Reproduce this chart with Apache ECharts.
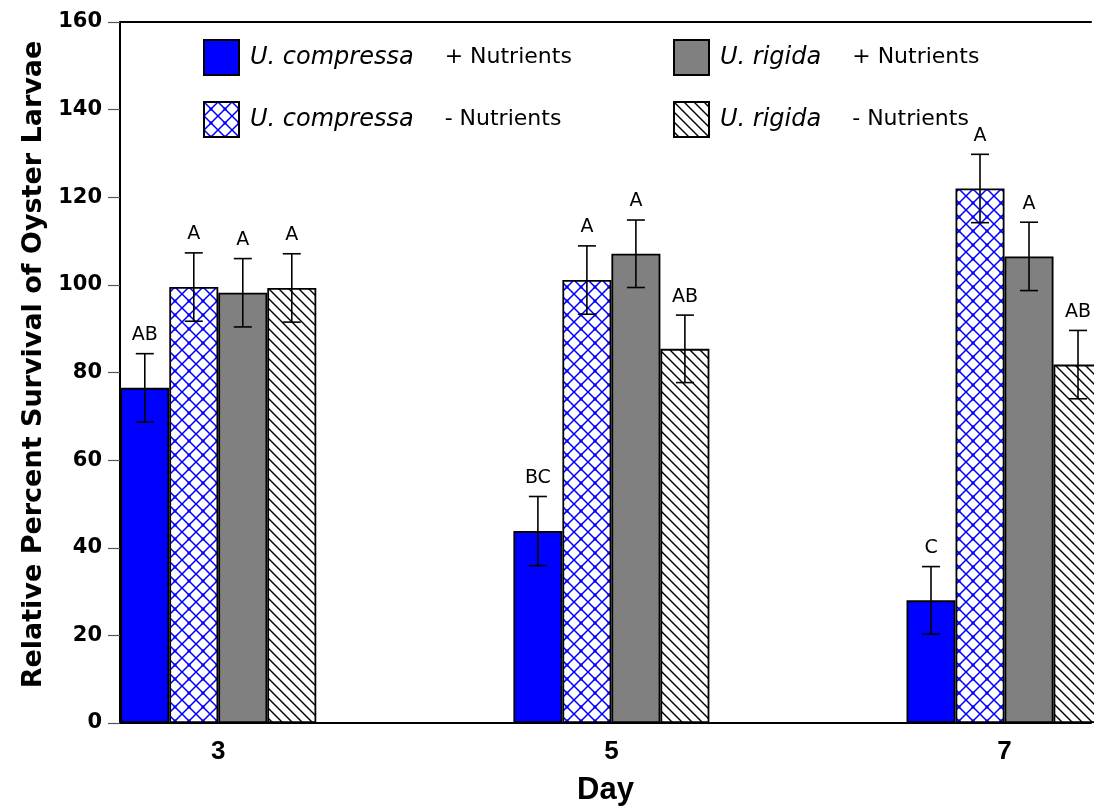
<!DOCTYPE html>
<html>
<head>
<meta charset="utf-8">
<script src="https://cdn.jsdelivr.net/npm/echarts@6/dist/echarts.min.js"></script>
<style>html,body{margin:0;padding:0;background:#fff}#c{width:1094px;height:812px}</style>
</head>
<body>
<div id="c"></div>
<script>
// ---- data ----
const days = [3, 5, 7];
const seriesNames = ['U. compressa + Nutrients', 'U. compressa - Nutrients', 'U. rigida + Nutrients', 'U. rigida - Nutrients'];
const ucPlus = [76.5, 43.8, 28.0];
const ucMinus = [99.5, 101.1, 122.0];
const urPlus = [98.2, 107.1, 106.5];
const urMinus = [99.3, 85.4, 81.8];
const ucPlusErr = [7.8, 7.9, 7.7];
const ucMinusErr = [7.8, 7.8, 7.8];
const urPlusErr = [7.8, 7.7, 7.8];
const urMinusErr = [7.8, 7.7, 7.8];
const ucPlusLetters = ['AB', 'BC', 'C'];
const ucMinusLetters = ['A', 'A', 'A'];
const urPlusLetters = ['A', 'A', 'A'];
const urMinusLetters = ['A', 'AB', 'AB'];
const yTicks = [0, 20, 40, 60, 80, 100, 120, 140, 160];
const xMin = 2.5, xMax = 7.44;

const values = [ucPlus, ucMinus, urPlus, urMinus];
const errs = [ucPlusErr, ucMinusErr, urPlusErr, urMinusErr];
const letters = [ucPlusLetters, ucMinusLetters, urPlusLetters, urMinusLetters];

// ---- patterns ----
function crossPattern() {
  const s = 14, c = document.createElement('canvas');
  c.width = s; c.height = s;
  const g = c.getContext('2d');
  g.fillStyle = '#fff'; g.fillRect(0, 0, s, s);
  g.strokeStyle = '#0000ff'; g.lineWidth = 1.5;
  g.beginPath();
  g.moveTo(-1, -1); g.lineTo(s + 1, s + 1);
  g.moveTo(s + 1, -1); g.lineTo(-1, s + 1);
  g.stroke();
  g.fillStyle = '#0000ff';
  g.fillRect(s / 2 - 1.5, s / 2 - 1.5, 3, 3);
  return { image: c, repeat: 'repeat' };
}
function diagPattern() {
  const s = 10, c = document.createElement('canvas');
  c.width = s; c.height = s;
  const g = c.getContext('2d');
  g.fillStyle = '#fff'; g.fillRect(0, 0, s, s);
  g.strokeStyle = '#000'; g.lineWidth = 1.4;
  g.beginPath();
  g.moveTo(-2, -2); g.lineTo(s + 2, s + 2);
  g.moveTo(-2, s - 2); g.lineTo(2, s + 2);
  g.moveTo(s - 2, -2); g.lineTo(s + 2, 2);
  g.stroke();
  return { image: c, repeat: 'repeat' };
}
const fills = ['#0000ff', crossPattern(), '#808080', diagPattern()];

const BAR_W = 49;
const FONT = "'DejaVu Sans', 'Liberation Sans', sans-serif";
const ARIAL = "'Liberation Sans', Arial, sans-serif";

const chart = echarts.init(document.getElementById('c'), null, { renderer: 'canvas' });

const series = [];
values.forEach((vals, i) => {
  series.push({
    name: seriesNames[i],
    type: 'bar',
    barWidth: BAR_W,
    barGap: '0%',
    itemStyle: { color: fills[i], borderColor: '#000', borderWidth: 1.8 },
    data: days.map((d, k) => [d, vals[k]]),
    z: 2
  });
});
values.forEach((vals, i) => {
  series.push({
    type: 'custom',
    z: 5,
    silent: true,
    data: days.map((d, k) => [d, vals[k], errs[i][k]]),
    encode: { x: 0, y: 1 },
    renderItem: function (params, api) {
      const x = api.value(0), y = api.value(1), e = api.value(2);
      const p = api.coord([x, y]);
      const cx = p[0] + (i - 1.5) * BAR_W;
      const top = api.coord([x, y + e])[1];
      const bot = api.coord([x, y - e])[1];
      const st = { stroke: '#000', lineWidth: 1.6 };
      return {
        type: 'group',
        children: [
          { type: 'line', shape: { x1: cx, y1: top, x2: cx, y2: bot }, style: st },
          { type: 'line', shape: { x1: cx - 9, y1: top, x2: cx + 9, y2: top }, style: st },
          { type: 'line', shape: { x1: cx - 9, y1: bot, x2: cx + 9, y2: bot }, style: st },
          { type: 'text', style: { text: letters[i][params.dataIndex], x: cx, y: top - 9, align: 'center', verticalAlign: 'bottom', font: "19px 'DejaVu Sans', sans-serif", fill: '#000' } }
        ]
      };
    }
  });
});

const legendCommon = {
  orient: 'vertical',
  itemWidth: 35,
  itemHeight: 35,
  itemGap: 25,
  padding: 0,
  icon: 'rect',
  selectedMode: false,
  formatter: function (name) {
    const m = name.match(/^(U\. \w+) (.*)$/);
    return '{i|' + m[1] + '}{n|' + m[2] + '}';
  },
  textStyle: {
    rich: {
      i: { fontFamily: FONT, fontStyle: 'italic', fontSize: 24, color: '#000', padding: [0, 0, 0, 6], lineHeight: 26 },
      n: { fontFamily: FONT, fontSize: 22, color: '#000', padding: [0, 0, 0, 31], lineHeight: 26 }
    }
  },
  itemStyle: { borderColor: '#000', borderWidth: 2 }
};

chart.setOption({
  animation: false,
  backgroundColor: '#fff',
  grid: { left: 120, top: 22, bottom: 89, right: 0, show: false },
  legend: [
    Object.assign({}, legendCommon, { left: 203, top: 39, data: [seriesNames[0], seriesNames[1]] }),
    Object.assign({}, legendCommon, { left: 673, top: 39, data: [seriesNames[2], seriesNames[3]] })
  ],
  xAxis: [{
    type: 'value',
    min: xMin,
    max: xMax,
    interval: 0.5,
    name: 'Day',
    nameLocation: 'middle',
    nameGap: 52,
    nameTextStyle: { fontFamily: ARIAL, fontWeight: 'bold', fontSize: 31, color: '#000' },
    axisLine: { show: true, lineStyle: { color: '#000', width: 2 } },
    axisTick: { show: false },
    splitLine: { show: false },
    axisLabel: {
      margin: 16,
      fontFamily: ARIAL, fontWeight: 'bold', fontSize: 26, color: '#000',
      showMinLabel: true, showMaxLabel: true,
      formatter: function (v) { return days.indexOf(v) >= 0 ? String(v) : ''; }
    }
  }, {
    type: 'value',
    position: 'top',
    min: xMin,
    max: xMax,
    interval: 0.5,
    axisLine: { show: true, lineStyle: { color: '#000', width: 2 } },
    axisTick: { show: false },
    axisLabel: { show: false },
    splitLine: { show: false }
  }],
  yAxis: {
    type: 'value',
    min: yTicks[0],
    max: yTicks[yTicks.length - 1],
    interval: 20,
    name: 'Relative Percent Survival of Oyster Larvae',
    nameLocation: 'middle',
    nameGap: 71,
    nameTextStyle: { fontFamily: FONT, fontWeight: 'bold', fontSize: 27, color: '#000', padding: [0, 0, 0, 16] },
    axisLine: { show: true, lineStyle: { color: '#000', width: 2 } },
    axisTick: { show: true, inside: false, length: 12, lineStyle: { color: '#555', width: 1.2 } },
    splitLine: { show: false },
    axisLabel: { margin: 18, fontFamily: FONT, fontWeight: 'bold', fontSize: 21, color: '#000' }
  },
  series: series
});
</script>
</body>
</html>
